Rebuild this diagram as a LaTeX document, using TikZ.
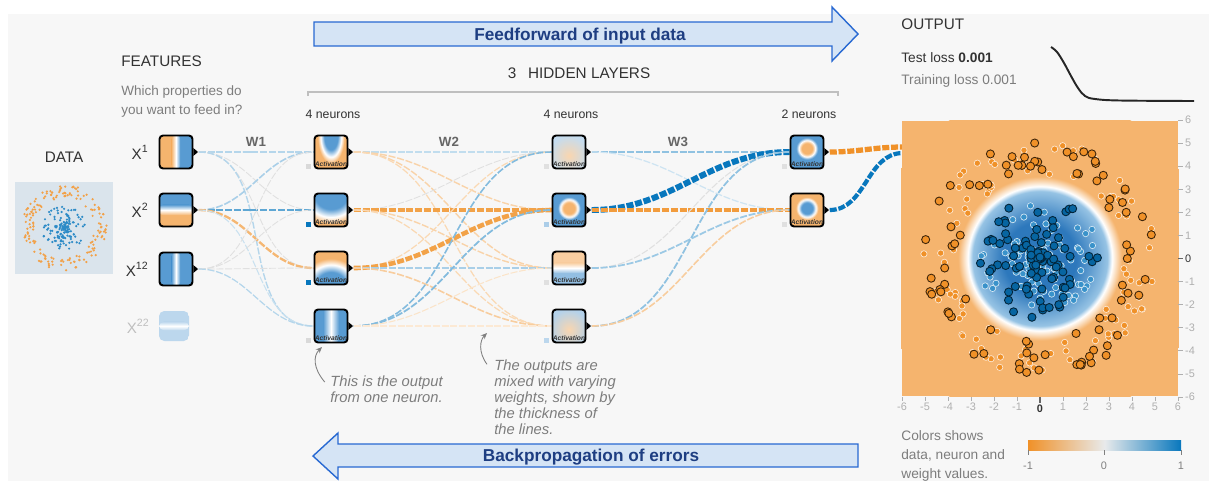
\documentclass[tikz,border=0pt]{standalone}
\usepackage{fontspec}
\setmainfont{Liberation Sans}
\usetikzlibrary{arrows.meta}

\definecolor{panel}{RGB}{247,247,247}
\definecolor{porange}{RGB}{240,145,40}
\definecolor{pblue}{RGB}{8,119,189}
\definecolor{lorange}{RGB}{245,180,110}
\definecolor{lblue}{RGB}{88,155,210}
\definecolor{bcore}{RGB}{45,120,188}
\definecolor{bedge}{RGB}{150,195,228}
\definecolor{ffill}{RGB}{213,228,245}
\definecolor{fline}{RGB}{40,105,210}
\definecolor{ftext}{RGB}{30,62,130}
\definecolor{darktext}{RGB}{50,50,50}
\definecolor{softtext}{RGB}{125,125,125}
\definecolor{ticktext}{RGB}{175,175,175}
\definecolor{cbmid}{RGB}{232,234,235}
\definecolor{thumb}{RGB}{218,228,236}

\pgfdeclareradialshading{bIn}{\pgfpoint{0bp}{0bp}}{color(0bp)=(lblue); color(7.5bp)=(lblue); color(11.5bp)=(white); color(15bp)=(lorange); color(25bp)=(lorange); color(50bp)=(lorange)}
\pgfdeclareradialshading{oIn}{\pgfpoint{0bp}{0bp}}{color(0bp)=(lorange); color(7.5bp)=(lorange); color(11.5bp)=(white); color(15bp)=(lblue); color(25bp)=(lblue); color(50bp)=(lblue)}
\pgfdeclareradialshading{plotblob}{\pgfpoint{0bp}{0bp}}{color(0bp)=(bcore); color(5.5bp)=(bcore); color(10.2bp)=(bedge); color(10.9bp)=(white); color(12.4bp)=(lorange); color(25bp)=(lorange); color(50bp)=(lorange)}

\pgfdeclarelayer{back}
\pgfdeclarelayer{links}
\pgfsetlayers{back,links,main}

% one weight line between two units
\newcommand{\wt}[4]{\draw[wline,draw=#3,line width=#4pt] ([xshift=3pt]#1.east) to[out=0,in=180] (#2.west);}

\tikzset{
  unit/.style={draw=black, line width=1.1pt, rounded corners=2pt, minimum size=0.66cm, inner sep=0pt},
  act/.style={label={[anchor=south,yshift=1.2pt,inner sep=0pt,font=\fontsize{3.8}{4}\selectfont\bfseries\itshape,text=darktext]south:Activation}},
  bias/.style={label={[anchor=south east,xshift=-1.5pt,inner sep=0pt,minimum size=2.8pt,fill=#1]south west:{}}},
  wline/.style={dash pattern=on 4pt off 1pt},
  blobimg/.style n args={4}{path picture={
      \fill[#1] (path picture bounding box.south west) rectangle (path picture bounding box.north east);
      \shade[#2] ([yshift=#3]path picture bounding box.center) ellipse (#4);}},
  vsplit/.style 2 args={path picture={
      \fill[#1] (path picture bounding box.south west) rectangle (path picture bounding box.north);
      \fill[#2] (path picture bounding box.south) rectangle (path picture bounding box.north east);
      \shade[left color=#1,right color=#2,middle color=white] ([xshift=-2.5pt]path picture bounding box.south) rectangle ([xshift=2.5pt]path picture bounding box.north);}},
  hsplit/.style 2 args={path picture={
      \fill[#1] (path picture bounding box.north west) rectangle (path picture bounding box.east);
      \fill[#2] (path picture bounding box.west) rectangle (path picture bounding box.south east);
      \shade[top color=#1,bottom color=#2,middle color=white] ([yshift=3pt]path picture bounding box.west) rectangle ([yshift=-3pt]path picture bounding box.east);}},
  vstripe/.style 2 args={path picture={
      \fill[#1] (path picture bounding box.south west) rectangle (path picture bounding box.north east);
      \shade[left color=#1,right color=#1,middle color=white] ([xshift=-#2]path picture bounding box.south) rectangle ([xshift=#2]path picture bounding box.north);}},
  hstripe/.style 2 args={path picture={
      \fill[#1] (path picture bounding box.south west) rectangle (path picture bounding box.north east);
      \shade[top color=#1,bottom color=#1,middle color=white] ([yshift=#2]path picture bounding box.west) rectangle ([yshift=-#2]path picture bounding box.east);}},
  head/.style={font=\fontsize{8.7}{10}\selectfont, text=darktext, inner sep=0pt},
  sub/.style={font=\fontsize{7.7}{10.8}\selectfont, text=softtext, inner sep=0pt, align=left},
  note/.style={font=\fontsize{8.4}{9.1}\selectfont\itshape, text=softtext, inner sep=0pt, align=left},
  wlab/.style={font=\fontsize{7.6}{9}\selectfont\bfseries, text=black!60, inner sep=0pt},
  cnt/.style={font=\fontsize{7}{8}\selectfont, text=darktext, inner sep=0pt},
  xlab/.style={font=\fontsize{8.6}{10}\selectfont, text=darktext, inner sep=0pt},
  tick/.style={font=\fontsize{6.2}{7}\selectfont, text=ticktext, inner sep=1pt},
  bigarrow/.style={fill=ffill, draw=fline, line width=0.8pt},
  arrowtext/.style={font=\fontsize{9.8}{12}\selectfont\bfseries, text=ftext, inner sep=0pt},
  notearrow/.style={draw=black!50, line width=0.5pt, -{Stealth[length=3.5pt,width=3pt]}},
  dotO/.style={fill=porange, draw=black!75!porange, line width=0.5pt},
  dotOl/.style={fill=porange, draw=white!85!porange, line width=0.35pt},
  dotB/.style={fill=pblue!85!black, draw=black!70!pblue, line width=0.5pt},
  dotBl/.style={fill=pblue!80!white, draw=white!85!pblue, line width=0.35pt},
}

\begin{document}
\begin{tikzpicture}[x=0.02cm, y=-0.02cm]
  \useasboundingbox (0,0) rectangle (1209,481);
  \begin{pgfonlayer}{back}
    \fill[panel] (8,14) rectangle (1209,481);
  \end{pgfonlayer}

  % arrows with the two directions
  \path[bigarrow] (314,22) -- (832,22) -- (832,7) -- (858,34) -- (832,61) -- (832,46) -- (314,46) -- cycle;
  \node[arrowtext, anchor=base] (ff) at (580,40) {Feedforward of input data};
  \path[bigarrow] (858,444) -- (338,444) -- (338,433) -- (313,456) -- (338,479) -- (338,467) -- (858,467) -- cycle;
  \node[arrowtext, anchor=base] (bp) at (591,461) {Backpropagation of errors};

  % data
  \node[head, anchor=base] (data) at (64,162.5) {DATA};
  \node[fill=thumb, minimum width=1.96cm, minimum height=1.84cm, inner sep=0pt] (thumbbox) at (64,228) {};
  \pgfmathsetseed{21}
  \foreach \k in {1,...,170}{
    \pgfmathsetmacro\ang{360*rnd}
    \pgfmathsetmacro\rad{8.4*(3.6+1.5*rnd)}
    \fill[porange!85] ({64+\rad*cos(\ang)},{228+\rad*sin(\ang)}) circle (0.7pt);
  }
  \foreach \k in {1,...,150}{
    \pgfmathsetmacro\ang{360*rnd}
    \pgfmathsetmacro\rad{8.4*2.6*rnd}
    \fill[pblue!85] ({64+\rad*cos(\ang)},{228+\rad*sin(\ang)}) circle (0.7pt);
  }

  % features
  \node[head, anchor=base west] (feat) at (121,66.5) {FEATURES};
  \node[sub, anchor=north west] (ask) at (121,85) {Which properties do\\you want to feed in?};
  \node[unit, vsplit={lorange}{lblue}] (f1) at (176,152) {};
  \node[unit, hsplit={lblue}{lorange}] (f2) at (176,210) {};
  \node[unit, vstripe={lblue}{2.5pt}] (f3) at (176,269) {};
  \node[minimum size=0.6cm, rounded corners=3pt, inner sep=0pt, hstripe={lblue!40!white}{2.5pt}] (f4) at (174,326) {};
  \node[xlab, anchor=east] (x1) at ([xshift=-5.5pt]f1.west) {X\textsuperscript{1}};
  \node[xlab, anchor=east] (x2) at ([xshift=-5.5pt]f2.west) {X\textsuperscript{2}};
  \node[xlab, anchor=east] (x3) at ([xshift=-5.5pt]f3.west) {X\textsuperscript{12}};
  \node[xlab, anchor=east, text=black!25] (x4) at ([xshift=-5pt]f4.west) {X\textsuperscript{22}};

  % hidden layers
  \node[head, anchor=base] (hid) at (579,78.5) {3\enspace\ HIDDEN LAYERS};
  \draw[black!25, line width=0.6pt] (308,96) -- (308,92) -- (838,92) -- (838,96);
  \node[cnt] (c1) at (333,114) {4 neurons};
  \node[cnt] (c2) at (571,114) {4 neurons};
  \node[cnt] (c3) at (809,114) {2 neurons};

  \node[unit, act, bias=black!15, blobimg={lorange}{shading=bIn}{9pt}{0.45cm and 0.9cm}] (n11) at (331,152) {};
  \node[unit, act, bias=pblue, blobimg={lorange!70!white}{shading=bIn}{9pt}{1.1cm and 1.0cm}] (n12) at (331,210) {};
  \node[unit, act, bias=pblue, blobimg={lorange}{shading=bIn}{-10pt}{1.0cm and 0.9cm}] (n13) at (331,268) {};
  \node[unit, act, bias=black!15, vstripe={lblue}{4.5pt}] (n14) at (331,326) {};

  \node[unit, act, bias=black!12, blobimg={lblue!35!white}{inner color=lorange!55!white,outer color=lblue!35!white}{-2pt}{0.4cm and 0.4cm}] (n21) at (569,152) {};
  \node[unit, act, bias=lblue!50!white, blobimg={lblue}{shading=oIn}{1pt}{0.38cm and 0.38cm}] (n22) at (569,210) {};
  \node[unit, act, bias=black!12, hsplit={lorange!65!white}{lblue!65!white}] (n23) at (569,268) {};
  \node[unit, act, bias=lblue!40!white, blobimg={lblue!45!white}{inner color=lorange!55!white,outer color=lblue!45!white}{-2pt}{0.4cm and 0.4cm}] (n24) at (569,326) {};

  \node[unit, act, bias=black!12, blobimg={lblue}{shading=oIn}{2pt}{0.36cm and 0.36cm}] (n31) at (807,152) {};
  \node[unit, act, bias=black!12, blobimg={lorange}{shading=bIn}{1pt}{0.38cm and 0.38cm}] (n32) at (807,210) {};

  \foreach \n in {f1,f2,f3,n11,n12,n13,n14,n21,n22,n23,n24,n31,n32}
    \fill ([yshift=2.2pt]\n.east) -- ([xshift=2.6pt]\n.east) -- ([yshift=-2.2pt]\n.east) -- cycle;

  \node[wlab] (w1) at (256,142) {W1};
  \node[wlab] (w2) at (449,142) {W2};
  \node[wlab] (w3) at (678,142) {W3};

  % weights
  \begin{pgfonlayer}{links}
    \wt{f1}{n11}{pblue!30}{0.8}
    \wt{f1}{n12}{black!12}{0.5}
    \wt{f1}{n13}{black!12}{0.5}
    \wt{f1}{n14}{pblue!30}{0.8}
    \wt{f2}{n11}{pblue!35}{0.9}
    \wt{f2}{n12}{pblue!65}{1.3}
    \wt{f2}{n13}{porange!65}{1.3}
    \wt{f2}{n14}{pblue!22}{0.6}
    \wt{f3}{n11}{black!12}{0.5}
    \wt{f3}{n12}{black!12}{0.5}
    \wt{f3}{n13}{black!12}{0.5}
    \wt{f3}{n14}{pblue!30}{0.7}

    \wt{n11}{n21}{pblue!25}{0.7}
    \wt{n11}{n22}{porange!40}{0.8}
    \wt{n11}{n23}{porange!40}{0.8}
    \wt{n11}{n24}{porange!35}{0.7}
    \wt{n12}{n21}{black!12}{0.5}
    \wt{n12}{n22}{porange!85}{2.4}
    \wt{n12}{n23}{porange!40}{0.8}
    \wt{n12}{n24}{porange!35}{0.7}
    \wt{n13}{n21}{porange!35}{0.7}
    \wt{n13}{n22}{porange!85}{2.6}
    \wt{n13}{n23}{pblue!35}{0.8}
    \wt{n13}{n24}{porange!45}{0.9}
    \wt{n14}{n21}{pblue!50}{0.9}
    \wt{n14}{n22}{pblue!50}{1.0}
    \wt{n14}{n23}{porange!25}{0.6}
    \wt{n14}{n24}{porange!20}{0.6}

    \wt{n21}{n31}{pblue!45}{1.0}
    \wt{n21}{n32}{pblue!20}{0.7}
    \wt{n22}{n31}{pblue}{3.4}
    \wt{n22}{n32}{porange!90}{2.6}
    \wt{n23}{n31}{black!12}{0.6}
    \wt{n23}{n32}{pblue!40}{1.0}
    \wt{n24}{n31}{pblue!45}{1.0}
    \wt{n24}{n32}{porange!45}{0.9}

    \coordinate (o1) at (903,147);
    \coordinate (o2) at (903,153);
    \draw[wline, draw=porange, line width=3pt] ([xshift=3pt]n31.east) to[out=0,in=180] (o1);
    \draw[wline, draw=pblue, line width=2.4pt] ([xshift=3pt]n32.east) to[out=0,in=180] (o2);
  \end{pgfonlayer}

  % notes
  \node[note, anchor=north west] (note1) at (330,375) {This is the output\\from one neuron.};
  \node[note, anchor=north west] (note2) at (494,359) {The outputs are\\mixed with varying\\weights, shown by\\the thickness of\\the lines.};
  \coordinate (tip1) at (322,347);
  \coordinate (tip2) at (487,333);
  \draw[notearrow] ([xshift=-3pt,yshift=-4pt]note1.north west) .. controls (313,368) and (313,356) .. (tip1);
  \draw[notearrow] ([xshift=-4pt,yshift=-3pt]note2.north west) .. controls (478,352) and (480,340) .. (tip2);

  % output
  \node[head, anchor=base west] (outt) at (901,29.5) {OUTPUT};
  \node[font=\fontsize{7.8}{9}\selectfont, text=darktext, inner sep=0pt, anchor=base west] (test) at (901,62) {Test loss \textbf{0.001}};
  \node[font=\fontsize{7.8}{9}\selectfont, text=softtext, inner sep=0pt, anchor=base west] (train) at (901,84) {Training loss 0.001};
  \draw[line width=1.1pt, black!85] plot[smooth, tension=0.6] coordinates {(1051,47) (1057,52) (1064,63) (1071,76) (1078,88) (1085,96) (1095,99) (1120,100.5) (1194,101)};

  \node[minimum size=5.52cm, inner sep=0pt, fill=lorange] (plot) at (1040,258.5) {};
  \begin{scope}
    \clip (plot.south west) rectangle (plot.north east);
    \shade[shading=plotblob] (plot.center) circle (94pt);
  \end{scope}
  \pgfmathsetseed{7}
  \foreach \k in {1,...,95}{
    \pgfmathsetmacro\ang{360*rnd}
    \pgfmathsetmacro\rad{23*(3.6+1.5*rnd)}
    \filldraw[dotOl] ({1040+\rad*cos(\ang)},{258.5+\rad*sin(\ang)}) circle (1.8pt);
  }
  \foreach \k in {1,...,85}{
    \pgfmathsetmacro\ang{360*rnd}
    \pgfmathsetmacro\rad{23*(3.6+1.5*rnd)}
    \filldraw[dotO] ({1040+\rad*cos(\ang)},{258.5+\rad*sin(\ang)}) circle (2.3pt);
  }
  \foreach \k in {1,...,110}{
    \pgfmathsetmacro\ang{360*rnd}
    \pgfmathsetmacro\rad{23*2.7*rnd}
    \filldraw[dotBl] ({1040+\rad*cos(\ang)},{258.5+\rad*sin(\ang)}) circle (1.8pt);
  }
  \foreach \k in {1,...,90}{
    \pgfmathsetmacro\ang{360*rnd}
    \pgfmathsetmacro\rad{23*2.6*rnd}
    \filldraw[dotB] ({1040+\rad*cos(\ang)},{258.5+\rad*sin(\ang)}) circle (2.3pt);
  }

  % axes of the plot
  \foreach \i in {-6,...,-1,1,2,...,6}{
    \draw[ticktext, line width=0.4pt] (1178,{258.5-23.08*\i}) -- +(5,0) node[tick, anchor=west] (ry\i) {\i};
    \draw[ticktext, line width=0.4pt] ({1040+23*\i},397) -- +(0,4) node[tick, anchor=north] (rx\i) {\i};
  }
  \draw[black!60, line width=0.4pt] (1178,258.5) -- +(5,0) node[tick, anchor=west, text=darktext] (ry0) {0};
  \draw[black!60, line width=0.6pt] (1040,397) -- +(0,6) node[tick, anchor=north, text=darktext, font=\fontsize{6.2}{7}\selectfont\bfseries] (rx0) {0};

  % colour legend
  \node[font=\fontsize{7.8}{11}\selectfont, text=softtext, inner sep=0pt, align=left, anchor=north west] (legend) at (901,430) {Colors shows\\data, neuron and\\weight values.};
  \shade[left color=porange, right color=pblue, middle color=cbmid] (1028,440) rectangle (1181,450);
  \foreach \xx/\t/\nm in {1028/-1/cb1,1104/0/cb2,1181/1/cb3}{
    \draw[black!50, line width=0.4pt] (\xx,450) -- (\xx,455);
    \node[tick, text=black!50] (\nm) at (\xx,466) {\t};
  }
\end{tikzpicture}
\end{document}
